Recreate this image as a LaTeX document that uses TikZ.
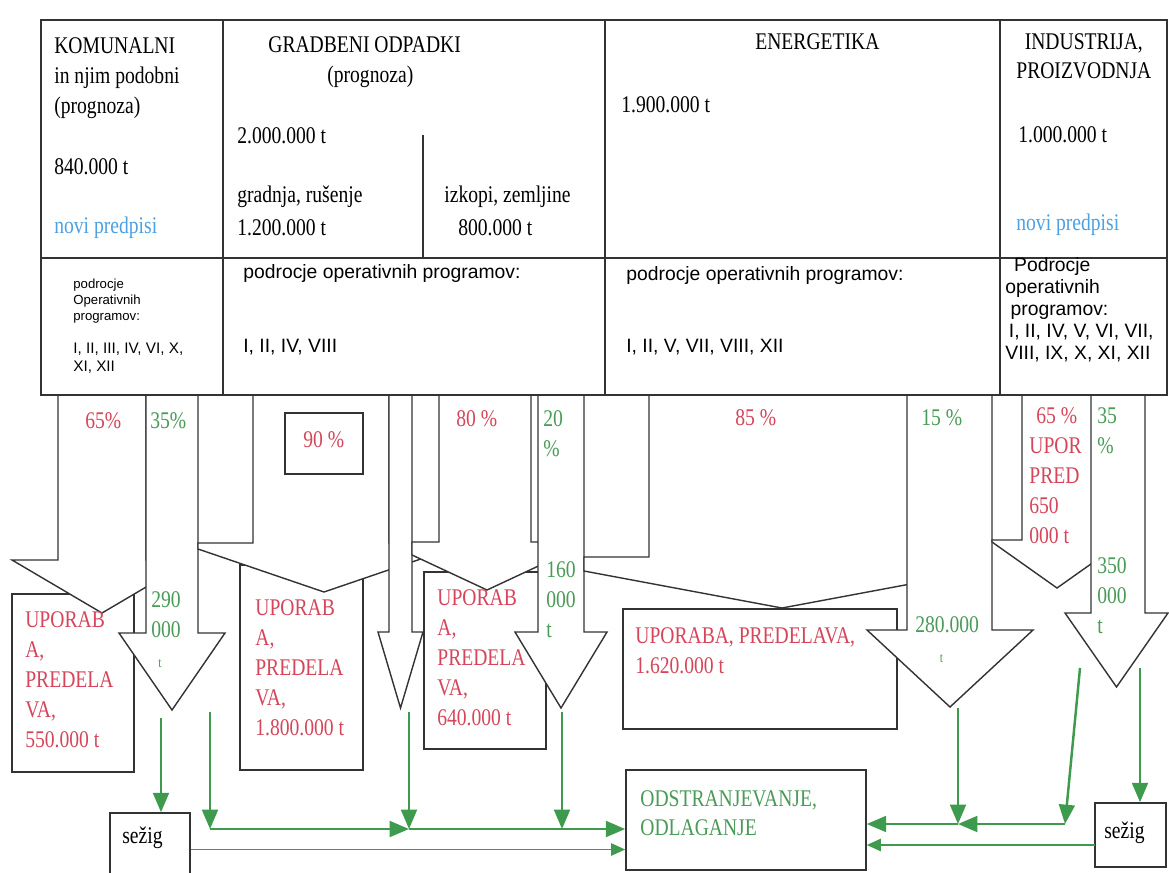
\documentclass[tikz,border=0pt]{standalone}
\usepackage{fontspec}
\setmainfont{Liberation Serif}[FakeStretch=0.82]
\setsansfont{Liberation Sans}
\usepackage{xcolor}
\usepackage{tikz}
\usetikzlibrary{arrows.meta, fit, positioning}
\definecolor{edge}{HTML}{333333}
\definecolor{usered}{HTML}{D6455B}
\definecolor{restgreen}{HTML}{4A9A58}
\definecolor{flowgreen}{HTML}{3E9A4C}
\definecolor{rulesblue}{HTML}{4DA0E3}
\tikzset{
  table line/.style={draw=edge, line width=1pt},
  block arrow/.style={
    draw=edge,
    line width=0.8pt,
    fill=white,
    line join=miter
  },
  waste box/.style={draw=edge, line width=0.9pt, fill=white, inner sep=0pt},
  head text/.style={
    anchor=base west, inner sep=0pt, align=left,
    font=\fontsize{13.6pt}{17pt}\selectfont
  },
  use text/.style={
    anchor=base west, inner sep=0pt, align=left, text=usered,
    font=\fontsize{13.6pt}{17pt}\selectfont
  },
  rest text/.style={
    anchor=base west, inner sep=0pt, align=left, text=restgreen,
    font=\fontsize{13.6pt}{17pt}\selectfont
  },
  prog text/.style={
    anchor=base west, inner sep=0pt, align=left,
    font=\sffamily\fontsize{11pt}{12.5pt}\selectfont
  },
  flow/.style={-{Triangle[length=11pt,width=9pt]}, draw=flowgreen, line width=1.4pt},
  thin flow/.style={-{Triangle[length=8pt,width=7pt]}, draw=flowgreen, line width=0.9pt}
}
% shaft left, shaft right, neck y, wing left, wing right, wing y, tip y
\newcommand{\blockarrow}[7]{%
  \draw[block arrow] (#1,395) -- (#1,#3) -- (#4,#3) -- (#4,#6)
    -- ({(#4+#5)/2},#7) -- (#5,#6) -- (#5,#3) -- (#2,#3) -- (#2,395);
}

\begin{document}
\begin{tikzpicture}[x=0.02cm, y=-0.02cm]
  \useasboundingbox (0,0) rectangle (1169,872);
  \clip (0,0) rectangle (1169,872);

  % boxes under the arrows
  \node[waste box, fit={(12,594) (134,772)}] (useK) {};
  \node[waste box, fit={(240,565) (363,770)}] (useG) {};
  \node[waste box, fit={(424,572) (546,749)}] (useZ) {};
  \node[waste box, fit={(623,609) (897,729)}] (useE) {};

  % block arrows
  \blockarrow{58}{146}{560}{12}{192}{560}{613}
  \blockarrow{146}{198}{633}{119}{225}{633}{710}
  \blockarrow{253}{389}{543}{198}{450}{549}{592}
  \blockarrow{389}{412}{632}{378}{423}{632}{708}
  \blockarrow{439}{531}{542}{412}{562}{555}{590}
  \blockarrow{538}{584}{632}{515}{607}{632}{708}
  \blockarrow{649}{915}{557}{584}{980}{571}{608}
  \blockarrow{907}{992}{630}{867}{1033}{630}{707}
  \blockarrow{1022}{1092}{540}{992}{1122}{542}{588}
  \blockarrow{1091}{1145}{613}{1065}{1168}{613}{687}
  \node[waste box, fit={(285,413) (363,474)}] (g90box) {};

  % table
  \draw[table line] (41,20) rectangle (1167,395);
  \draw[table line] (41,258) -- (1167,258);
  \draw[table line] (223,20) -- (223,395) (605,20) -- (605,395)
    (1000,20) -- (1000,395) (423,135) -- (423,258);

  % multi-line texts sit on the baseline of their last line
  \node[head text] (komTitle) at (54,113) {KOMUNALNI\\in njim podobni\\(prognoza)};
  \node[head text] (komAmount) at (54,174) {840.000 t};
  \node[head text, text=rulesblue] (komRules) at (54,233) {novi predpisi};
  \node[head text] (graTitle) at (268,52) {GRADBENI ODPADKI};
  \node[head text] (graProg) at (327,82) {(prognoza)};
  \node[head text] (graAmount) at (237,143) {2.000.000 t};
  \node[head text] (graBuild) at (237,202) {gradnja, rušenje};
  \node[head text] (graBuildAmt) at (237,235) {1.200.000 t};
  \node[head text] (graDig) at (444,202) {izkopi, zemljine};
  \node[head text] (graDigAmt) at (458,235) {800.000 t};
  \node[head text] (eneTitle) at (755,50) {ENERGETIKA};
  \node[head text] (eneAmount) at (621,112) {1.900.000 t};
  \node[head text, align=center, font=\fontsize{13.6pt}{16pt}\selectfont] (indTitle) at (1016,78) {INDUSTRIJA,\\PROIZVODNJA};
  \node[head text] (indAmount) at (1018,142) {1.000.000 t};
  \node[head text, text=rulesblue] (indRules) at (1016,230) {novi predpisi};

  \node[prog text, font=\sffamily\fontsize{7.5pt}{9pt}\selectfont] (komProg) at (73,320) {podrocje\\Operativnih\\programov:};
  \node[prog text, font=\sffamily\fontsize{8.7pt}{10.2pt}\selectfont] (komList) at (73,371) {I, II, III, IV, VI, X,\\XI, XII};
  \node[prog text] (graProgTitle) at (243,278) {podrocje operativnih programov:};
  \node[prog text] (graList) at (243,352) {I, II, IV, VIII};
  \node[prog text] (eneProgTitle) at (626,280) {podrocje operativnih programov:};
  \node[prog text] (eneList) at (626,352) {I, II, V, VII, VIII, XII};
  \node[prog text] (indProg) at (1005,359) {\hspace*{5pt}Podrocje\\operativnih\\\hspace*{3pt}programov:\\\hspace*{2pt}I, II, IV, V, VI, VII,\\VIII, IX, X, XI, XII};

  % shares and amounts
  \node[use text] (k65) at (85,428) {65\%};
  \node[rest text] (k35) at (150,428) {35\%};
  \node[use text] (g90) at (303,447) {90 \%};
  \node[use text] (g80) at (456,426) {80 \%};
  \node[rest text] (g20) at (543,456) {20\\\%};
  \node[use text] (e85) at (735,425) {85 \%};
  \node[rest text] (e15) at (921,425) {15 \%};
  \node[use text] (i65) at (1029,543) {\hspace*{4pt}65 \%\\UPOR\\PRED\\650\\000 t};
  \node[rest text] (i35) at (1097,453) {35\\\%};
  \node[rest text] (k290) at (151,667) {290\\000\\\hspace*{4pt}{\fontsize{8pt}{8pt}\selectfont t}};
  \node[rest text] (g160) at (546,637) {160\\000\\t};
  \node[rest text] (e280) at (915,662) {280.000\\\hspace*{14pt}{\fontsize{8pt}{8pt}\selectfont t}};
  \node[rest text] (i350) at (1097,633) {350\\000\\t};

  \node[use text] (useKtxt) at (25,747) {UPORAB\\A,\\PREDELA\\VA,\\550.000 t};
  \node[use text] (useGtxt) at (255,735) {UPORAB\\A,\\PREDELA\\VA,\\1.800.000 t};
  \node[use text] (useZtxt) at (437,725) {UPORAB\\A,\\PREDELA\\VA,\\640.000 t};
  \node[use text] (useEtxt) at (635,673) {UPORABA, PREDELAVA,\\1.620.000 t};

  % disposal
  \node[waste box, fit={(110,813) (190,886)}] (burnL) {};
  \node[waste box, fit={(626,770) (866,870)}] (odst) {};
  \node[waste box, fit={(1095,803) (1166,867)}] (burnR) {};
  \node[head text] (burnLtxt) at (122,843) {sežig};
  \node[head text] (burnRtxt) at (1104,838) {sežig};
  \node[rest text, font=\fontsize{13.6pt}{16pt}\selectfont] (odstTxt) at (640,835) {ODSTRANJEVANJE,\\ODLAGANJE};

  \coordinate (k35out) at (161,718);
  \coordinate (kfree) at (210,712);
  \coordinate (kcorner) at (210,829);
  \coordinate (gout) at (409,712);
  \coordinate (gjoin) at (409,829);
  \coordinate (g20out) at (562,712);
  \coordinate (e15out) at (958,708);
  \coordinate (ejoin) at (958,824);
  \coordinate (i65out) at (1080,668);
  \coordinate (icorner) at (1065,824);
  \coordinate (i35out) at (1140,668);
  \coordinate (rback) at (1095,845);

  \draw[flow] (k35out) -- (k35out |- burnL.north);
  \draw[flow] (kfree) -- (kcorner);
  \draw[flow] (kcorner) -- (gjoin);
  \draw[flow] (gout) -- (gjoin);
  \draw[flow] (g20out) -- (g20out |- gjoin);
  \draw[flow] (gjoin) -- (odst.west |- gjoin);
  \draw[thin flow] (burnL.east) -- (odst.west |- burnL.east);
  \draw[flow] (e15out) -- (ejoin);
  \draw[flow] (i65out) -- (icorner);
  \draw[flow] (icorner) -- (ejoin);
  \draw[flow] (ejoin) -- (odst.east |- ejoin);
  \draw[flow] (i35out) -- (i35out |- burnR.north);
  \draw[thin flow] (rback) -- (odst.east |- rback);
\end{tikzpicture}
\end{document}
